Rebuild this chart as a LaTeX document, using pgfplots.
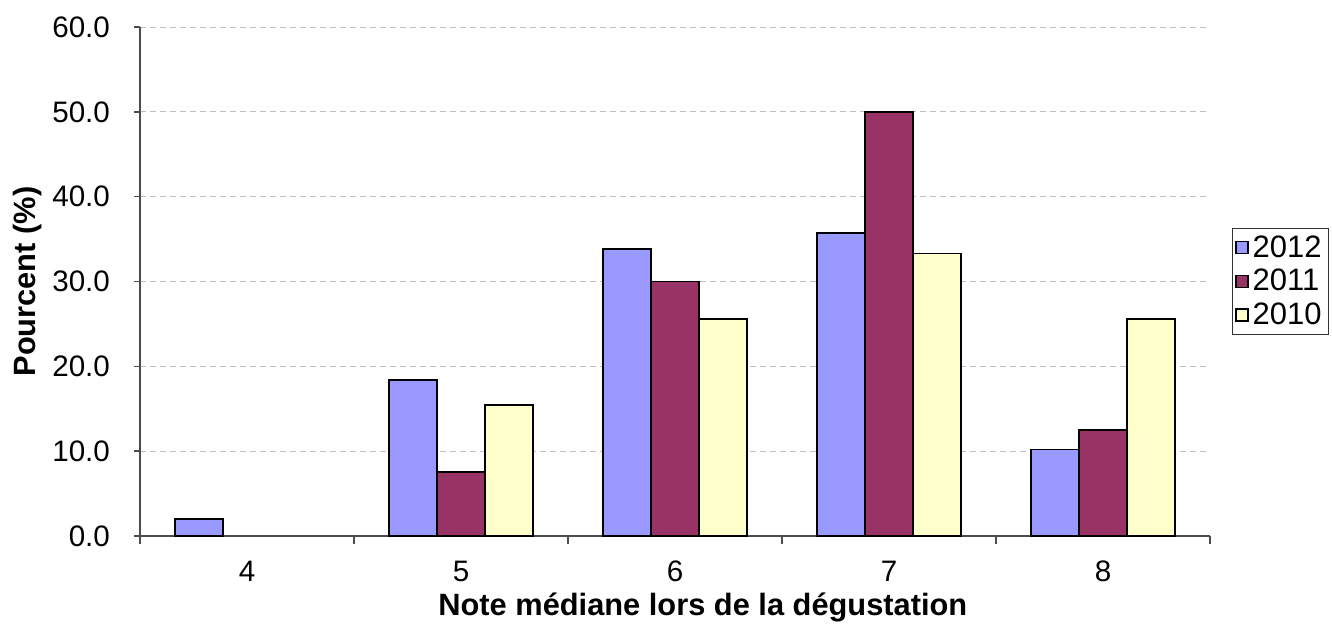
\documentclass[border=0pt]{standalone}
\usepackage{fontspec}
\setmainfont{Liberation Sans}
\usepackage{pgfplots}
\pgfplotsset{compat=1.18}
\definecolor{c2012}{HTML}{9999FF}
\definecolor{c2011}{HTML}{993366}
\definecolor{c2010}{HTML}{FFFFCC}
\begin{document}
\begin{tikzpicture}
\begin{axis}[
  scale only axis,
  width=535pt, height=254.5pt,
  xmin=3.5, xmax=8.5,
  ymin=0, ymax=60,
  ytick={0,10,...,60},
  xtick={4,...,8},
  minor xtick={3.5,4.5,...,8.5},
  major x tick style={draw=none},
  minor x tick style={draw=black!70, thick},
  tick align=outside,
  y tick style={draw=black!70, thick},
  minor tick length=4pt,
  major tick length=3pt,
  axis lines*=left,
  axis line style={draw=black!70, thick},
  ymajorgrids,
  grid style={densely dashed, black!25},
  ybar, bar width=24pt,
  every axis plot/.append style={draw=black, line width=0.9pt},
  ticklabel style={font=\fontsize{14.8}{17}\selectfont},
  yticklabel style={xshift=-8.5pt, /pgf/number format/.cd, fixed, fixed zerofill, precision=1},
  /pgf/number format/assume math mode=true,
  xticklabel style={yshift=-6pt},
  xlabel={Note médiane lors de la dégustation},
  ylabel={Pourcent (\%)},
  label style={font=\bfseries\fontsize{15.4}{18}\selectfont},
  xlabel style={at={(axis description cs:0.526,-0.1395)}, anchor=center},
  ylabel style={at={(axis description cs:-0.1047,0.5)}, anchor=center},
  legend style={at={(axis description cs:1.0206,0.605)}, anchor=north west,
    draw=black!80, font=\fontsize{15.5}{18}\selectfont, inner sep=1.5pt,
    row sep=0.5pt, legend cell align=left},
  legend image code/.code={\draw[#1, line width=0.6pt, draw=black] (0pt,-3pt) rectangle (6pt,3pt);},
]
\addplot[fill=c2012, bar shift=-24pt] coordinates {(4,2.0) (5,18.4) (6,33.8) (7,35.7) (8,10.2)};
\addplot[fill=c2011, bar shift=0pt] coordinates {(5,7.5) (6,30.0) (7,50.0) (8,12.5)};
\addplot[fill=c2010, bar shift=24pt] coordinates {(5,15.4) (6,25.6) (7,33.3) (8,25.6)};
\legend{2012,2011,2010}
\end{axis}
\pgfresetboundingbox
\path (-70pt,-43.5pt) rectangle (596pt,268pt);
\end{tikzpicture}
\end{document}
